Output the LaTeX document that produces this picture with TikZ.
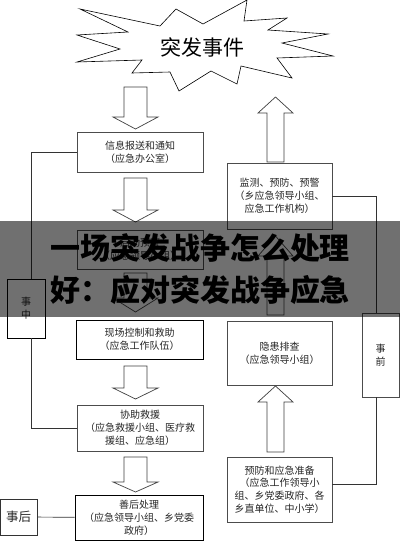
\documentclass[tikz,border=0pt]{standalone}
\usepackage{fontspec}
\newfontfamily\cjk{Noto Sans CJK SC}
\newcommand\darr[3]{\draw[blk] (124,#1) -- (147,#1) -- (147,#2) -- (158,#2) -- (135.5,#3) -- (113,#2) -- (124,#2) -- cycle;}
\newcommand\uarr[3]{\draw[blk] (267,#1) -- (284,#1) -- (284,#2) -- (293,#2) -- (275.5,#3) -- (258,#2) -- (267,#2) -- cycle;}
\begin{document}
\begin{tikzpicture}[x=1pt,y=-1pt,
  box/.style={draw=black!70, line width=0.7pt, align=center, inner sep=0pt,
    font=\cjk\fontsize{10}{12.8}\selectfont, text=black!85},
  blk/.style={draw=black!75, line width=0.7pt, fill=white},
  conn/.style={draw=black!80, line width=0.7pt}]
\useasboundingbox (0,0) rectangle (400,541);
\fill[white] (0,0) rectangle (400,541);
% star
\draw[line width=0.6pt, fill=white] (80,9) -- (160,26) -- (176,9) -- (203,24) -- (247,0) -- (244,21) -- (287,18) -- (268,30) -- (328,34) -- (282,43) -- (333,56) -- (277,58) -- (292,78) -- (241,66) -- (237,84) -- (211,71) -- (179,91) -- (170,72) -- (132,73) -- (142,60) -- (77,62) -- (120,49) -- (77,35) -- (128,32) -- cycle;
\node[font=\cjk\fontsize{21}{24}\selectfont] (event) at (202,47) {突发事件};
% left column boxes
\node[box, minimum width=126pt, minimum height=40pt] (info) at (140,152) {信息报送和通知\\（应急办公室）};
\node[box, minimum width=126pt, minimum height=39pt] (plan) at (140,249.5) {启动预警\\（应急领导小组）};
\node[box, draw=black, minimum width=127pt, minimum height=39pt] (site) at (139.5,339.5) {现场控制和救助\\（应急工作队伍）};
\node[box, minimum width=126pt, minimum height=46pt] (rescue) at (140,428) {协助救援\\（应急救援小组、医疗救\\援组、应急组）};
\node[box, draw=black, minimum width=128pt, minimum height=45pt] (after) at (139,517.5) {善后处理\\（应急领导小组、乡党委\\政府）};
% right column boxes
\node[box, minimum width=105pt, minimum height=66pt] (monitor) at (279.5,196) {监测、预防、预警\\（乡应急领导小组、\\应急工作机构）};
\node[box, minimum width=105pt, minimum height=64pt] (hazard) at (279.5,353) {隐患排查\\（应急领导小组）};
\node[box, minimum width=105pt, minimum height=65pt] (prep) at (279.5,489.5) {预防和应急准备\\（应急工作领导小\\组、乡党委政府、各\\乡直单位、中小学）};
% phase boxes
\node[box, draw=black, minimum width=38pt, minimum height=59pt] (during) at (26,308.5) {事\\中};
\node[box, minimum width=37pt, minimum height=84pt] (before) at (380.5,355) {事\\前};
\node[box, draw=black!80, minimum width=37pt, minimum height=36pt, font=\cjk\fontsize{12.5}{14}\selectfont] (post) at (18.5,517) {事后};
% block arrows
\darr{87}{117}{129}
\darr{178}{210}{222}
\darr{273}{298}{312}
\darr{366}{388}{399}
\darr{457}{482}{492}
\uarr{162}{113}{97}
\uarr{315}{256}{236}
\uarr{452}{402}{386}
% connectors
\draw[conn] ([xshift=5pt]during.north) |- (info.west);
\draw[conn] ([xshift=5pt]during.south) |- (rescue.west);
\draw[conn] (monitor.east) -| ([xshift=-4pt]before.north);
\draw[conn] ([xshift=-4pt]before.south) |- ([yshift=5pt]prep.east);
\draw[conn] (post) -- (after);
% overlay banner
\fill[black, opacity=0.56] (0,221) rectangle (400,317);
\node[font=\cjk\bfseries\fontsize{30}{34}\selectfont] (title1) at (200,248) {一场突发战争怎么处理};
\node[font=\cjk\bfseries\fontsize{30}{34}\selectfont] (title2) at (200,290) {好：应对突发战争应急};
\end{tikzpicture}
\end{document}
